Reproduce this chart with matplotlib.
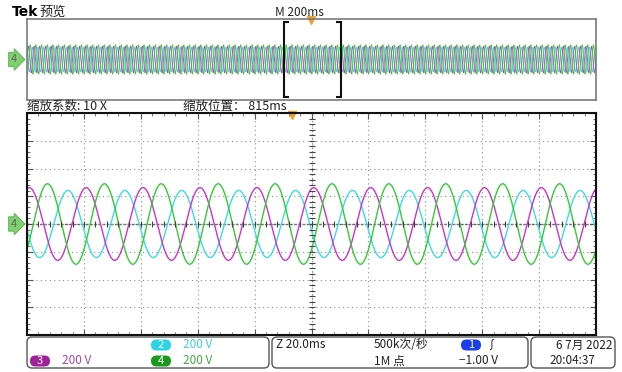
import matplotlib

matplotlib.use("Agg")
import matplotlib.pyplot as plt
import numpy as np
from matplotlib.patches import FancyBboxPatch
from matplotlib.ticker import MultipleLocator

plt.rcParams['font.family'] = ['Noto Sans CJK SC', 'DejaVu Sans']

# three-phase traces (200 V/div, 20 ms/div, 50 Hz)
channels = ["2", "3", "4"]
amplitudes_v = [242, 262, 290]
peak_ms = [14.4, 0.8, 7.2]          # first crest after the left edge of the zoom window
colors = ["#3ddbe6", "#cc33cc", "#33cc33"]
period_ms = 20.0

# overview record: 2 s, zoom window of 200 ms
record_ms = 2000
zoom_window = (904, 1104)
trig_overview_ms = 998
trig_zoom_ms = 93

W, H = 622, 372


def box(x0, y0, x1, y1):
    return [x0 / W, 1 - y1 / H, (x1 - x0) / W, (y1 - y0) / H]


def wave(t, amp, peak):
    return amp * np.cos(2 * np.pi * (t - peak) / period_ms)


fig = plt.figure(figsize=(W / 100, H / 100), dpi=100)

# ---- overview strip
axo = fig.add_axes(box(27, 19, 596, 100))
t_all = np.linspace(0, record_ms, 40000)
for amp, pk, c in zip(amplitudes_v, peak_ms, colors):
    axo.plot(t_all, wave(t_all - zoom_window[0], amp, pk), color=c, lw=0.6)
axo.set_xlim(0, record_ms)
axo.set_ylim(-800, 800)
axo.set_xticks([])
axo.set_yticks([])
for s in axo.spines.values():
    s.set_color("#7a7a7a")
    s.set_linewidth(1.2)
serif = 14
for x0, d in [(zoom_window[0], serif), (zoom_window[1], -serif)]:
    axo.plot([x0 + d, x0, x0, x0 + d], [740, 740, -740, -740], color="#111", lw=1.5,
             solid_joinstyle="miter")
axo.plot([trig_overview_ms], [790], marker="v", color="#f0a030", ms=6, clip_on=False)

# ---- zoomed display
ax = fig.add_axes(box(27, 113, 596, 335))
t = np.linspace(0, 200, 4000)
for amp, pk, c in zip(amplitudes_v, peak_ms, colors):
    ax.plot(t, wave(t, amp, pk), color=c, lw=1.0)
ax.set_xlim(0, 200)
ax.set_ylim(-800, 800)
ax.xaxis.set_major_locator(MultipleLocator(20))
ax.xaxis.set_minor_locator(MultipleLocator(4))
ax.yaxis.set_major_locator(MultipleLocator(200))
ax.yaxis.set_minor_locator(MultipleLocator(40))
ax.tick_params(which="both", direction="in", top=True, right=True,
               labelbottom=False, labelleft=False, color="#555")
ax.tick_params(which="major", length=4, width=0.8)
ax.tick_params(which="minor", length=2.5, width=0.6)
ax.grid(which="major", ls=(0, (1, 3)), color="#8a8a8a", lw=0.8)
ax.axhline(0, color="#666", lw=1.0, ls=(0, (2, 1)), zorder=1)
ax.axvline(100, color="#888", lw=0.8, ls=(0, (1, 2)), zorder=1)
yt = np.arange(-800, 801, 40)
xt = np.arange(0, 201, 4)
ax.plot(np.full(len(yt), 100), yt, ls="none", marker="_", ms=4, color="#444", mew=0.8)
ax.plot(xt, np.zeros(len(xt)), ls="none", marker="|", ms=4, color="#444", mew=0.8)
for s in ax.spines.values():
    s.set_color("#111")
    s.set_linewidth(1.5)
ax.plot([trig_zoom_ms], [785], marker="v", color="#f0a030", ms=6, clip_on=False)

# ---- overlay: labels, channel markers and status bar (pixel coordinates)
ov = fig.add_axes([0, 0, 1, 1], facecolor="none")
ov.set_xlim(0, W)
ov.set_ylim(H, 0)
ov.axis("off")

ov.text(12, 12, "Tek", fontsize=10, fontweight="bold", va="center", family="DejaVu Sans")
ov.text(39, 12, "预览", fontsize=9.5, va="center", color="#222")
ov.text(275, 12, "M 200ms", fontsize=8.5, va="center", color="#222")
ov.text(27, 106, "缩放系数: 10 X", fontsize=9, va="center", color="#222")
ov.text(183, 106, "缩放位置： 815ms", fontsize=9, va="center", color="#222")

for yc in (59.5, 224):
    ov.text(14, yc, "4", fontsize=8, color="#666", ha="center", va="center",
            bbox=dict(boxstyle="rarrow,pad=0.2", fc="#7fd06e", ec="#5aae50", lw=0.6))

for x0, x1 in [(27, 269), (272, 528), (531, 615)]:
    ov.add_patch(FancyBboxPatch((x0, 337), x1 - x0, 31,
                                boxstyle="round,pad=0,rounding_size=5",
                                fc="white", ec="#555", lw=1.0))


def badge(x, y, label, fc):
    ov.add_patch(FancyBboxPatch((x - 10, y - 5.5), 20, 11,
                                boxstyle="round,pad=0,rounding_size=5.5",
                                fc=fc, ec="none"))
    ov.text(x, y, label, fontsize=8, color="white", ha="center", va="center")


badge(161, 345, "2", "#2ad4e4")
ov.text(183, 345, "200 V", fontsize=8.5, color="#40ccdd", va="center")
badge(40, 361, "3", "#a0209a")
ov.text(62, 361, "200 V", fontsize=8.5, color="#aa44aa", va="center")
badge(161, 361, "4", "#1a9a1a")
ov.text(183, 361, "200 V", fontsize=8.5, color="#44aa44", va="center")

ov.text(276, 345, "Z 20.0ms", fontsize=8.5, va="center", color="#222")
ov.text(374, 345, "500k次/秒", fontsize=8.5, va="center", color="#222")
ov.text(374, 361, "1M 点", fontsize=8.5, va="center", color="#222")
badge(471, 345, "1", "#1a3ee8")
ov.text(485, 345, "∫", fontsize=8.5, va="center", color="#222")
ov.text(459, 361, "−1.00 V", fontsize=8.5, va="center", color="#222")
ov.text(612, 345, "6 7月 2022", fontsize=8.5, ha="right", va="center", color="#222")
ov.text(549, 361, "20:04:37", fontsize=8.5, va="center", color="#222")

fig.savefig("out.png", dpi=100)
